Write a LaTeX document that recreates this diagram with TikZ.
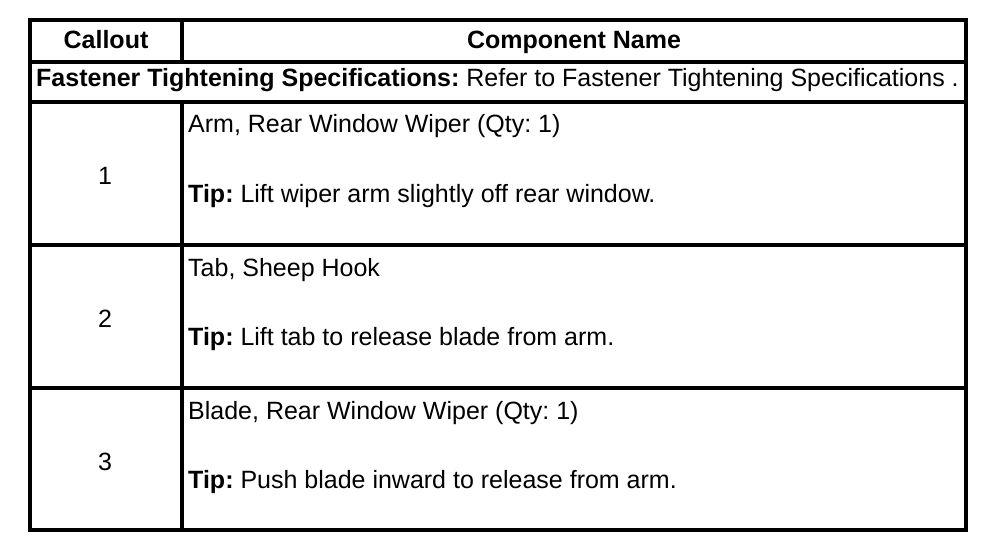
\documentclass[tikz,border=0pt]{standalone}
\usepackage{fontspec}
\setmainfont{Liberation Sans}
\usepackage{tikz}
\frenchspacing

\begin{document}
\begin{tikzpicture}[x=1pt,y=-1pt]
        \useasboundingbox (0,0) rectangle (1008,548);
        \begin{scope}[every path/.style={line width=4pt}]
                \coordinate (TL) at (30,20);
                \coordinate (BR) at (966,530);
                \draw (TL) rectangle (BR);
                \draw (30,62) -- (966,62);
                \draw (30,102) -- (966,102);
                \draw (30,245) -- (966,245);
                \draw (30,388) -- (966,388);
                \draw (182,20) -- (182,62);
                \draw (182,102) -- (182,530);
        \end{scope}
        \begin{scope}[every node/.style={font=\fontsize{25}{28}\selectfont, inner sep=0}]
                \node[anchor=base] (H1) at (106,49) {\textbf{Callout}};
                \node[anchor=base] (H2) at (574,49) {\textbf{Component Name}};
                \node[anchor=base west] (F) at (36,87) {\textbf{Fastener Tightening Specifications:} Refer to Fastener Tightening Specifications .};

                \node[anchor=base] (N1) at (105,184) {1};
                \node[anchor=base west] (C1) at (188,133) {Arm, Rear Window Wiper (Qty: 1)};
                \node[anchor=base west] (T1) at (188,202) {\textbf{Tip:} Lift wiper arm slightly off rear window.};

                \node[anchor=base] (N2) at (105,327) {2};
                \node[anchor=base west] (C2) at (188,276) {Tab, Sheep Hook};
                \node[anchor=base west] (T2) at (188,345) {\textbf{Tip:} Lift tab to release blade from arm.};

                \node[anchor=base] (N3) at (105,470) {3};
                \node[anchor=base west] (C3) at (188,419) {Blade, Rear Window Wiper (Qty: 1)};
                \node[anchor=base west] (T3) at (188,488) {\textbf{Tip:} Push blade inward to release from arm.};
        \end{scope}
\end{tikzpicture}
\end{document}
